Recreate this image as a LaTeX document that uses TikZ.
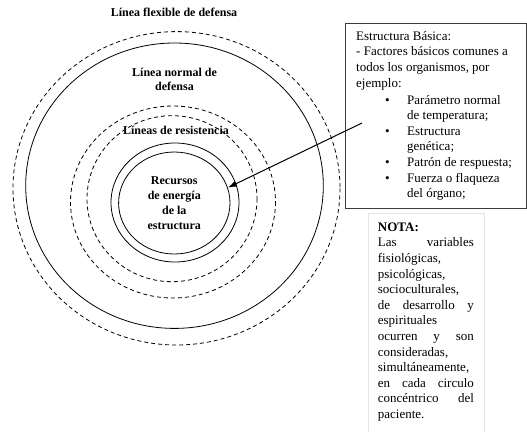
\documentclass[tikz,border=0pt]{standalone}
\usepackage{fontspec}
\setmainfont{Liberation Serif}
\usetikzlibrary{shapes.geometric, arrows.meta}
\definecolor{boxedge}{HTML}{3C3C3C}
\definecolor{noteedge}{HTML}{E4E4E4}
\newcommand{\jline}[1]{\makebox[96pt][s]{\spaceskip=.25em plus 1fil\relax#1}}
\newcommand{\bul}[1]{\hspace*{29pt}\makebox[22pt][l]{\textbullet}#1}
\newcommand{\cont}[1]{\hspace*{51pt}#1}

\begin{document}
\begin{tikzpicture}[
    x=1pt, y=-1pt,
    >={Latex[length=9pt, width=6pt]},
    ring/.style={line width=0.8pt},
    dashring/.style={ring, dash pattern=on 4pt off 3pt},
    tag/.style={font=\fontsize{12}{14}\selectfont\bfseries, align=center, inner sep=0pt},
    plain/.style={font=\fontsize{13}{15.6}\selectfont, align=left, inner sep=0pt, anchor=north west},
]
\useasboundingbox (0,0) rectangle (527,432);

% Concentric lines around the core
\foreach \cx/\cy/\rx/\ry/\st in {176.5/188.3/163.5/156.7/dashring, 174.5/185.7/148.8/142.7/ring, 173/202/102.5/96/dashring, 172/198.7/85/83/dashring, 175/202.5/64/59.5/ring} {
    \draw[\st] (\cx,\cy) ellipse [x radius=\rx, y radius=\ry];
}

% Core and line labels
\node[ellipse, draw, ring, minimum width=111.4pt, minimum height=102pt, inner sep=0pt,
      font=\fontsize{12}{15}\selectfont\bfseries, align=center] (core) at (174.3,203)
    {Recursos\\de energía\\de la\\estructura};
\node[tag] (flex) at (174,12.5) {Línea flexible de defensa};
\node[tag] (normal) at (174.5,79) {Línea normal de\\defensa};
\node[tag] (resist) at (176,130) {Líneas de resistencia};

% Basic structure box
\node[draw=boxedge, line width=1pt, minimum width=181pt, minimum height=185pt, anchor=north west] (basic) at (345,23) {};
\node[plain] (basictext) at (356,31) {Estructura Básica:\\
    - Factores básicos comunes a\\
    todos los organismos, por\\
    ejemplo:\\[1.5pt]
    \bul{Parámetro normal}\\
    \cont{de temperatura;}\\
    \bul{Estructura}\\
    \cont{genética;}\\
    \bul{Patrón de respuesta;}\\
    \bul{Fuerza o flaqueza}\\
    \cont{del órgano;}};
\coordinate (tail) at (362,123);
\draw[->, line width=1pt] (tail) -- (core.16);

% Note
\node[plain, text width=96pt, inner xsep=10pt, inner ysep=9.5pt] (nota) at (367.7,213) {\textbf{NOTA:}\\
    \jline{Las variables}\\
    fisiológicas,\\
    psicológicas,\\
    socioculturales,\\
    \jline{de desarrollo y}\\
    espirituales\\
    \jline{ocurren y son}\\
    consideradas,\\
    simultáneamente,\\
    \jline{en cada circulo}\\
    \jline{concéntrico del}\\
    paciente.};
\coordinate (floor) at (0,432);
\draw[noteedge] (nota.north west |- floor) -- (nota.north west) -- (nota.north east) -- (nota.north east |- floor);

\end{tikzpicture}
\end{document}
